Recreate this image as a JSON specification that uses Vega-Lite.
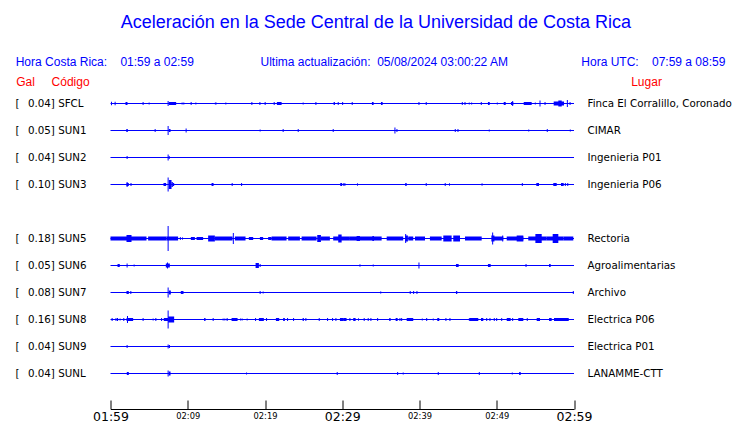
{
  "$schema": "https://vega.github.io/schema/vega-lite/v6.json",
  "width": 463.5,
  "height": 297,
  "autosize": "none",
  "padding": {"left": 110.5, "top": 90, "right": 166, "bottom": 36},
  "background": "white",
  "config": {"view": {"stroke": null}, "axis": {"grid": false}, "font": "DejaVu Sans"},
  "title": {
    "text": "\u200b\u00a0\u00a0\u00a0\u00a0\u00a0\u00a0\u00a0\u00a0\u00a0\u00a0\u00a0\u00a0\u00a0\u00a0\u00a0\u00a0\u00a0\u00a0\u00a0\u00a0\u00a0Aceleración en la Sede Central de la Universidad de Costa Rica",
    "subtitle": "Hora Costa Rica:\u00a0\u00a0\u00a0\u00a001:59 a 02:59\u00a0\u00a0\u00a0\u00a0\u00a0\u00a0\u00a0\u00a0\u00a0\u00a0\u00a0\u00a0\u00a0\u00a0\u00a0\u00a0\u00a0\u00a0\u00a0\u00a0Ultima actualización:\u00a0\u00a005/08/2024 03:00:22 AM\u00a0\u00a0\u00a0\u00a0\u00a0\u00a0\u00a0\u00a0\u00a0\u00a0\u00a0\u00a0\u00a0\u00a0\u00a0\u00a0\u00a0\u00a0\u00a0\u00a0\u00a0\u00a0Hora UTC:\u00a0\u00a0\u00a0\u00a007:59 a 08:59",
    "anchor": "start",
    "frame": "group",
    "dx": -94.8,
    "font": "Liberation Sans",
    "fontSize": 18,
    "fontWeight": "normal",
    "color": "#0000ff",
    "subtitleFont": "Liberation Sans",
    "subtitleFontSize": 12,
    "subtitleColor": "#0000ff",
    "offset": 7,
    "subtitlePadding": 25
  },
  "datasets": {
    "stations": [
      {"code": "SFCL", "gal": 0.04, "place": "Finca El Corralillo, Coronado"},
      {"code": "SUN1", "gal": 0.05, "place": "CIMAR"},
      {"code": "SUN2", "gal": 0.04, "place": "Ingenieria P01"},
      {"code": "SUN3", "gal": 0.10, "place": "Ingenieria P06"},
      {"code": "SUN4", "gal": null, "place": ""},
      {"code": "SUN5", "gal": 0.18, "place": "Rectoria"},
      {"code": "SUN6", "gal": 0.05, "place": "Agroalimentarias"},
      {"code": "SUN7", "gal": 0.08, "place": "Archivo"},
      {"code": "SUN8", "gal": 0.16, "place": "Electrica P06"},
      {"code": "SUN9", "gal": 0.04, "place": "Electrica P01"},
      {"code": "SUNL", "gal": 0.04, "place": "LANAMME-CTT"}
    ],
    "spikes": [
      {"code": "SFCL", "t": 0.13, "amp": 3.5}, {"code": "SFCL", "t": 0.60, "amp": 3.5}, {"code": "SFCL", "t": 4.22, "amp": 3},
      {"code": "SFCL", "t": 5.00, "amp": 2}, {"code": "SFCL", "t": 7.46, "amp": 5}, {"code": "SFCL", "t": 9.27, "amp": 2},
      {"code": "SFCL", "t": 9.49, "amp": 2}, {"code": "SFCL", "t": 10.44, "amp": 3}, {"code": "SFCL", "t": 11.05, "amp": 2},
      {"code": "SFCL", "t": 14.93, "amp": 2}, {"code": "SFCL", "t": 18.30, "amp": 3}, {"code": "SFCL", "t": 19.34, "amp": 3},
      {"code": "SFCL", "t": 20.02, "amp": 3}, {"code": "SFCL", "t": 21.19, "amp": 3}, {"code": "SFCL", "t": 24.94, "amp": 2},
      {"code": "SFCL", "t": 26.59, "amp": 3}, {"code": "SFCL", "t": 29.48, "amp": 3}, {"code": "SFCL", "t": 30.05, "amp": 3},
      {"code": "SFCL", "t": 31.29, "amp": 3}, {"code": "SFCL", "t": 39.93, "amp": 3}, {"code": "SFCL", "t": 40.87, "amp": 3},
      {"code": "SFCL", "t": 45.54, "amp": 3}, {"code": "SFCL", "t": 45.89, "amp": 3}, {"code": "SFCL", "t": 46.44, "amp": 2},
      {"code": "SFCL", "t": 46.75, "amp": 2}, {"code": "SFCL", "t": 48.00, "amp": 3}, {"code": "SFCL", "t": 50.07, "amp": 2},
      {"code": "SFCL", "t": 52.06, "amp": 5}, {"code": "SFCL", "t": 54.99, "amp": 2}, {"code": "SFCL", "t": 55.60, "amp": 6},
      {"code": "SFCL", "t": 56.25, "amp": 3}, {"code": "SFCL", "t": 59.14, "amp": 7}, {"code": "SFCL", "t": 59.49, "amp": 3},
      {"code": "SUN1", "t": 2.15, "amp": 3}, {"code": "SUN1", "t": 5.78, "amp": 3}, {"code": "SUN1", "t": 7.46, "amp": 9},
      {"code": "SUN1", "t": 9.79, "amp": 4}, {"code": "SUN1", "t": 19.37, "amp": 2}, {"code": "SUN1", "t": 22.35, "amp": 3},
      {"code": "SUN1", "t": 24.30, "amp": 3}, {"code": "SUN1", "t": 28.83, "amp": 3}, {"code": "SUN1", "t": 36.82, "amp": 6},
      {"code": "SUN1", "t": 37.08, "amp": 3}, {"code": "SUN1", "t": 44.63, "amp": 3}, {"code": "SUN1", "t": 44.98, "amp": 3},
      {"code": "SUN1", "t": 49.03, "amp": 2}, {"code": "SUN1", "t": 54.14, "amp": 2}, {"code": "SUN1", "t": 56.54, "amp": 3},
      {"code": "SUN1", "t": 59.52, "amp": 2},
      {"code": "SUN2", "t": 2.15, "amp": 3}, {"code": "SUN2", "t": 7.46, "amp": 6}, {"code": "SUN2", "t": 7.60, "amp": 3},
      {"code": "SUN3", "t": 2.15, "amp": 5}, {"code": "SUN3", "t": 7.46, "amp": 14}, {"code": "SUN3", "t": 15.75, "amp": 3},
      {"code": "SUN3", "t": 16.97, "amp": 3}, {"code": "SUN3", "t": 30.21, "amp": 3}, {"code": "SUN3", "t": 40.87, "amp": 3},
      {"code": "SUN3", "t": 43.33, "amp": 3}, {"code": "SUN3", "t": 53.31, "amp": 3}, {"code": "SUN3", "t": 58.88, "amp": 3},
      {"code": "SUN3", "t": 59.19, "amp": 3},
      {"code": "SUN5", "t": 7.46, "amp": 25}, {"code": "SUN5", "t": 15.90, "amp": 11}, {"code": "SUN5", "t": 38.21, "amp": 9},
      {"code": "SUN5", "t": 49.47, "amp": 12}, {"code": "SUN5", "t": 50.77, "amp": 6},
      {"code": "SUN6", "t": 2.15, "amp": 4}, {"code": "SUN6", "t": 3.06, "amp": 2}, {"code": "SUN6", "t": 7.38, "amp": 6},
      {"code": "SUN6", "t": 19.37, "amp": 3}, {"code": "SUN6", "t": 34.01, "amp": 2}, {"code": "SUN6", "t": 39.93, "amp": 6},
      {"code": "SUN6", "t": 53.79, "amp": 3},
      {"code": "SUN7", "t": 2.63, "amp": 3}, {"code": "SUN7", "t": 7.46, "amp": 10}, {"code": "SUN7", "t": 19.37, "amp": 3},
      {"code": "SUN7", "t": 19.76, "amp": 2}, {"code": "SUN7", "t": 38.80, "amp": 3}, {"code": "SUN7", "t": 39.24, "amp": 3},
      {"code": "SUN7", "t": 39.67, "amp": 3}, {"code": "SUN7", "t": 59.91, "amp": 3},
      {"code": "SUN8", "t": 0.21, "amp": 3}, {"code": "SUN8", "t": 0.65, "amp": 2}, {"code": "SUN8", "t": 1.24, "amp": 2},
      {"code": "SUN8", "t": 1.72, "amp": 3}, {"code": "SUN8", "t": 2.20, "amp": 7}, {"code": "SUN8", "t": 4.22, "amp": 3},
      {"code": "SUN8", "t": 5.52, "amp": 2}, {"code": "SUN8", "t": 5.87, "amp": 3}, {"code": "SUN8", "t": 6.61, "amp": 3},
      {"code": "SUN8", "t": 7.46, "amp": 18}, {"code": "SUN8", "t": 13.29, "amp": 3}, {"code": "SUN8", "t": 14.58, "amp": 2},
      {"code": "SUN8", "t": 14.80, "amp": 2}, {"code": "SUN8", "t": 15.10, "amp": 3}, {"code": "SUN8", "t": 16.84, "amp": 2},
      {"code": "SUN8", "t": 17.04, "amp": 2}, {"code": "SUN8", "t": 17.69, "amp": 2}, {"code": "SUN8", "t": 18.78, "amp": 3},
      {"code": "SUN8", "t": 20.20, "amp": 3}, {"code": "SUN8", "t": 22.92, "amp": 3}, {"code": "SUN8", "t": 23.70, "amp": 3},
      {"code": "SUN8", "t": 25.29, "amp": 3}, {"code": "SUN8", "t": 27.02, "amp": 3}, {"code": "SUN8", "t": 28.10, "amp": 3},
      {"code": "SUN8", "t": 28.75, "amp": 3}, {"code": "SUN8", "t": 29.18, "amp": 3}, {"code": "SUN8", "t": 30.99, "amp": 3},
      {"code": "SUN8", "t": 32.84, "amp": 3}, {"code": "SUN8", "t": 33.36, "amp": 3}, {"code": "SUN8", "t": 33.71, "amp": 3},
      {"code": "SUN8", "t": 34.58, "amp": 3}, {"code": "SUN8", "t": 37.47, "amp": 3}, {"code": "SUN8", "t": 37.69, "amp": 3},
      {"code": "SUN8", "t": 40.36, "amp": 2}, {"code": "SUN8", "t": 40.93, "amp": 3}, {"code": "SUN8", "t": 41.78, "amp": 2},
      {"code": "SUN8", "t": 43.42, "amp": 3}, {"code": "SUN8", "t": 43.94, "amp": 3}, {"code": "SUN8", "t": 46.44, "amp": 2},
      {"code": "SUN8", "t": 48.70, "amp": 3}, {"code": "SUN8", "t": 49.12, "amp": 3}, {"code": "SUN8", "t": 49.68, "amp": 3},
      {"code": "SUN8", "t": 49.99, "amp": 3}, {"code": "SUN8", "t": 50.64, "amp": 3}, {"code": "SUN8", "t": 52.06, "amp": 3},
      {"code": "SUN8", "t": 53.95, "amp": 3},
      {"code": "SUN9", "t": 2.15, "amp": 3}, {"code": "SUN9", "t": 7.46, "amp": 4},
      {"code": "SUNL", "t": 7.46, "amp": 6}, {"code": "SUNL", "t": 17.61, "amp": 2}, {"code": "SUNL", "t": 29.35, "amp": 3},
      {"code": "SUNL", "t": 37.17, "amp": 3}, {"code": "SUNL", "t": 37.89, "amp": 2}, {"code": "SUNL", "t": 42.43, "amp": 3},
      {"code": "SUNL", "t": 47.74, "amp": 3}, {"code": "SUNL", "t": 52.01, "amp": 2}
    ],
    "bursts": [
      {"code": "SFCL", "t0": 1.94, "t1": 2.20, "amp": 3}, {"code": "SFCL", "t0": 7.55, "t1": 8.50, "amp": 3},
      {"code": "SFCL", "t0": 13.51, "t1": 13.73, "amp": 2}, {"code": "SFCL", "t0": 21.54, "t1": 22.15, "amp": 3},
      {"code": "SFCL", "t0": 28.88, "t1": 29.05, "amp": 3}, {"code": "SFCL", "t0": 33.84, "t1": 34.06, "amp": 3},
      {"code": "SFCL", "t0": 35.01, "t1": 35.23, "amp": 3}, {"code": "SFCL", "t0": 48.86, "t1": 49.09, "amp": 3},
      {"code": "SFCL", "t0": 50.90, "t1": 51.16, "amp": 3}, {"code": "SFCL", "t0": 51.84, "t1": 52.14, "amp": 3},
      {"code": "SFCL", "t0": 53.49, "t1": 54.52, "amp": 3}, {"code": "SFCL", "t0": 57.37, "t1": 58.71, "amp": 4},
      {"code": "SFCL", "t0": 57.97, "t1": 58.41, "amp": 6},
      {"code": "SUN1", "t0": 2.07, "t1": 2.20, "amp": 3}, {"code": "SUN1", "t0": 7.55, "t1": 7.77, "amp": 3},
      {"code": "SUN3", "t0": 2.07, "t1": 2.37, "amp": 3}, {"code": "SUN3", "t0": 2.59, "t1": 2.72, "amp": 3},
      {"code": "SUN3", "t0": 6.86, "t1": 7.20, "amp": 3}, {"code": "SUN3", "t0": 7.55, "t1": 7.90, "amp": 9},
      {"code": "SUN3", "t0": 7.90, "t1": 8.07, "amp": 5}, {"code": "SUN3", "t0": 8.07, "t1": 8.24, "amp": 3},
      {"code": "SUN3", "t0": 13.08, "t1": 13.34, "amp": 3}, {"code": "SUN3", "t0": 29.74, "t1": 29.99, "amp": 3},
      {"code": "SUN3", "t0": 30.31, "t1": 30.40, "amp": 3}, {"code": "SUN3", "t0": 31.94, "t1": 32.03, "amp": 3},
      {"code": "SUN3", "t0": 38.15, "t1": 38.34, "amp": 3}, {"code": "SUN3", "t0": 43.85, "t1": 43.94, "amp": 3},
      {"code": "SUN3", "t0": 48.05, "t1": 48.14, "amp": 3}, {"code": "SUN3", "t0": 55.12, "t1": 55.47, "amp": 3},
      {"code": "SUN3", "t0": 57.32, "t1": 57.76, "amp": 3}, {"code": "SUN3", "t0": 58.32, "t1": 58.67, "amp": 3},
      {"code": "SUN5", "t0": 0.00, "t1": 4.66, "amp": 4}, {"code": "SUN5", "t0": 2.07, "t1": 2.72, "amp": 7},
      {"code": "SUN5", "t0": 4.87, "t1": 7.25, "amp": 4}, {"code": "SUN5", "t0": 7.25, "t1": 8.75, "amp": 4},
      {"code": "SUN5", "t0": 8.98, "t1": 9.10, "amp": 3}, {"code": "SUN5", "t0": 9.27, "t1": 9.35, "amp": 3},
      {"code": "SUN5", "t0": 10.40, "t1": 10.92, "amp": 3}, {"code": "SUN5", "t0": 11.14, "t1": 11.99, "amp": 3},
      {"code": "SUN5", "t0": 12.64, "t1": 13.51, "amp": 6}, {"code": "SUN5", "t0": 13.51, "t1": 15.80, "amp": 4},
      {"code": "SUN5", "t0": 16.10, "t1": 17.48, "amp": 4}, {"code": "SUN5", "t0": 17.91, "t1": 18.47, "amp": 3},
      {"code": "SUN5", "t0": 19.34, "t1": 19.76, "amp": 3}, {"code": "SUN5", "t0": 20.41, "t1": 20.85, "amp": 3},
      {"code": "SUN5", "t0": 20.85, "t1": 22.79, "amp": 4}, {"code": "SUN5", "t0": 23.00, "t1": 24.52, "amp": 4},
      {"code": "SUN5", "t0": 24.74, "t1": 26.68, "amp": 4}, {"code": "SUN5", "t0": 26.76, "t1": 27.24, "amp": 7},
      {"code": "SUN5", "t0": 27.24, "t1": 28.40, "amp": 4}, {"code": "SUN5", "t0": 28.83, "t1": 30.99, "amp": 4},
      {"code": "SUN5", "t0": 29.48, "t1": 29.92, "amp": 8}, {"code": "SUN5", "t0": 30.99, "t1": 35.10, "amp": 4},
      {"code": "SUN5", "t0": 31.86, "t1": 32.29, "amp": 5}, {"code": "SUN5", "t0": 33.90, "t1": 34.10, "amp": 5},
      {"code": "SUN5", "t0": 35.75, "t1": 37.89, "amp": 4}, {"code": "SUN5", "t0": 38.15, "t1": 38.50, "amp": 6},
      {"code": "SUN5", "t0": 38.54, "t1": 39.19, "amp": 4}, {"code": "SUN5", "t0": 39.41, "t1": 40.71, "amp": 4},
      {"code": "SUN5", "t0": 41.35, "t1": 42.87, "amp": 4}, {"code": "SUN5", "t0": 43.08, "t1": 44.16, "amp": 6},
      {"code": "SUN5", "t0": 44.37, "t1": 45.24, "amp": 6}, {"code": "SUN5", "t0": 45.89, "t1": 48.05, "amp": 4},
      {"code": "SUN5", "t0": 49.30, "t1": 49.70, "amp": 6}, {"code": "SUN5", "t0": 49.55, "t1": 50.85, "amp": 4},
      {"code": "SUN5", "t0": 51.29, "t1": 53.44, "amp": 4}, {"code": "SUN5", "t0": 52.58, "t1": 53.44, "amp": 6},
      {"code": "SUN5", "t0": 54.08, "t1": 56.47, "amp": 4}, {"code": "SUN5", "t0": 55.00, "t1": 55.82, "amp": 9},
      {"code": "SUN5", "t0": 56.47, "t1": 58.62, "amp": 4}, {"code": "SUN5", "t0": 57.24, "t1": 57.97, "amp": 9},
      {"code": "SUN5", "t0": 58.62, "t1": 59.91, "amp": 4},
      {"code": "SUN6", "t0": 0.91, "t1": 1.20, "amp": 3}, {"code": "SUN6", "t0": 7.16, "t1": 7.68, "amp": 4},
      {"code": "SUN6", "t0": 18.78, "t1": 19.21, "amp": 5}, {"code": "SUN6", "t0": 32.20, "t1": 32.38, "amp": 2},
      {"code": "SUN6", "t0": 44.72, "t1": 45.07, "amp": 3}, {"code": "SUN6", "t0": 48.86, "t1": 49.21, "amp": 3},
      {"code": "SUN6", "t0": 56.77, "t1": 56.98, "amp": 3},
      {"code": "SUN7", "t0": 2.07, "t1": 2.37, "amp": 3}, {"code": "SUN7", "t0": 7.55, "t1": 7.81, "amp": 4},
      {"code": "SUN7", "t0": 9.10, "t1": 9.45, "amp": 3}, {"code": "SUN7", "t0": 34.90, "t1": 35.05, "amp": 2},
      {"code": "SUN7", "t0": 44.72, "t1": 44.89, "amp": 3},
      {"code": "SUN8", "t0": 0.78, "t1": 0.98, "amp": 3}, {"code": "SUN8", "t0": 2.07, "t1": 2.93, "amp": 3},
      {"code": "SUN8", "t0": 6.90, "t1": 7.46, "amp": 3}, {"code": "SUN8", "t0": 7.46, "t1": 8.24, "amp": 6},
      {"code": "SUN8", "t0": 12.12, "t1": 12.30, "amp": 3}, {"code": "SUN8", "t0": 15.67, "t1": 16.45, "amp": 3},
      {"code": "SUN8", "t0": 19.21, "t1": 19.85, "amp": 3}, {"code": "SUN8", "t0": 21.41, "t1": 21.84, "amp": 3},
      {"code": "SUN8", "t0": 22.35, "t1": 22.57, "amp": 3}, {"code": "SUN8", "t0": 24.87, "t1": 25.03, "amp": 3},
      {"code": "SUN8", "t0": 29.70, "t1": 30.12, "amp": 3}, {"code": "SUN8", "t0": 30.12, "t1": 30.56, "amp": 3},
      {"code": "SUN8", "t0": 31.42, "t1": 31.73, "amp": 3}, {"code": "SUN8", "t0": 32.07, "t1": 32.16, "amp": 3},
      {"code": "SUN8", "t0": 36.08, "t1": 36.26, "amp": 3}, {"code": "SUN8", "t0": 36.91, "t1": 37.17, "amp": 3},
      {"code": "SUN8", "t0": 38.34, "t1": 39.19, "amp": 3}, {"code": "SUN8", "t0": 42.30, "t1": 42.56, "amp": 3},
      {"code": "SUN8", "t0": 46.44, "t1": 47.61, "amp": 3}, {"code": "SUN8", "t0": 47.96, "t1": 48.26, "amp": 3},
      {"code": "SUN8", "t0": 51.29, "t1": 51.80, "amp": 3}, {"code": "SUN8", "t0": 52.79, "t1": 53.44, "amp": 3},
      {"code": "SUN8", "t0": 55.17, "t1": 55.60, "amp": 3}, {"code": "SUN8", "t0": 56.77, "t1": 57.11, "amp": 3},
      {"code": "SUN8", "t0": 57.41, "t1": 59.32, "amp": 3},
      {"code": "SUN9", "t0": 7.55, "t1": 7.70, "amp": 3},
      {"code": "SUNL", "t0": 2.11, "t1": 2.37, "amp": 3}, {"code": "SUNL", "t0": 7.55, "t1": 7.77, "amp": 4},
      {"code": "SUNL", "t0": 52.90, "t1": 53.10, "amp": 3}
    ]
  },
  "layer": [
    {
      "layer": [
        {
          "data": {"name": "stations"},
          "transform": [{"filter": "datum.gal != null"}],
          "mark": {"type": "rule", "color": "#0000ff", "strokeWidth": 1},
          "encoding": {
            "x": {"datum": 0, "type": "quantitative", "scale": {"domain": [0, 60], "nice": false, "zero": false},
              "axis": {
                "orient": "bottom", "offset": 22, "values": [0, 5, 10, 15, 20, 25, 30, 35, 40, 45, 50, 55, 60],
                "tickSize": -9, "tickColor": "black", "tickWidth": 1, "domainColor": "black", "domainWidth": 1,
                "labelExpr": "datum.value % 10 == 0 ? ('0' + floor((119 + datum.value) / 60) + ':' + ((119 + datum.value) % 60 < 10 ? '0' : '') + ((119 + datum.value) % 60)) : ''",
                "labelFontSize": {"condition": {"test": "datum.value % 30 == 0", "value": 12.5}, "value": 8.3},
                "labelFont": "DejaVu Sans", "labelColor": "black", "labelPadding": 16, "labelBaseline": "middle",
                "labelFlush": false, "labelOverlap": false, "labelBound": false, "title": null, "grid": false
              }
            },
            "x2": {"datum": 60},
            "y": {"field": "code", "type": "nominal",
              "scale": {"type": "point", "padding": 0.5, "domain": ["SFCL", "SUN1", "SUN2", "SUN3", "SUN4", "SUN5", "SUN6", "SUN7", "SUN8", "SUN9", "SUNL"]},
              "axis": null}
          }
        },
        {
          "data": {"name": "bursts"},
          "mark": {"type": "rule", "color": "#0000ff", "strokeCap": "butt"},
          "encoding": {
            "x": {"field": "t0", "type": "quantitative"},
            "x2": {"field": "t1"},
            "y": {"field": "code", "type": "nominal"},
            "strokeWidth": {"field": "amp", "type": "quantitative", "scale": {"domain": [0, 30], "range": [0, 30]}, "legend": null}
          }
        },
        {
          "data": {"name": "spikes"},
          "mark": {"type": "tick", "color": "#0000ff", "thickness": 1, "opacity": 1, "orient": "vertical"},
          "encoding": {
            "x": {"field": "t", "type": "quantitative"},
            "y": {"field": "code", "type": "nominal"},
            "size": {"field": "amp", "type": "quantitative", "scale": {"domain": [0, 30], "range": [0, 30]}, "legend": null}
          }
        }
      ]
    },
    {
      "data": {"name": "stations"},
      "transform": [{"calculate": "datum.gal == null ? '' : '[\u2002\u00a0' + format(datum.gal, '.2f') + '] ' + datum.code", "as": "label"}],
      "mark": {"type": "tick", "opacity": 0},
      "encoding": {
        "y": {"field": "label", "type": "nominal", "sort": null, "scale": {"type": "point", "padding": 0.5},
          "axis": {
            "orient": "left", "ticks": false, "tickSize": 0, "domain": false, "labelAlign": "left", "labelBaseline": "middle",
            "labelPadding": 95.5, "labelFont": "DejaVu Sans", "labelFontSize": 10.3, "labelColor": "black", "labelLimit": 300,
            "labelOverlap": false,
            "title": "Gal\u00a0\u00a0\u00a0\u00a0\u00a0Código", "titleAngle": 0, "titleAlign": "left", "titleBaseline": "alphabetic",
            "titleX": -94.8, "titleY": -5, "titleFont": "Liberation Sans", "titleFontSize": 12, "titleFontWeight": "normal", "titleColor": "red"
          }
        }
      }
    },
    {
      "data": {"name": "stations"},
      "mark": {"type": "tick", "opacity": 0},
      "encoding": {
        "y": {"field": "place", "type": "nominal", "sort": null, "scale": {"type": "point", "padding": 0.5},
          "axis": {
            "orient": "right", "ticks": false, "tickSize": 0, "domain": false, "labelAlign": "left", "labelBaseline": "middle",
            "labelPadding": 13, "labelFont": "DejaVu Sans", "labelFontSize": 10.3, "labelColor": "black", "labelLimit": 300,
            "labelOverlap": false,
            "title": "Lugar", "titleAngle": 0, "titleAlign": "left", "titleBaseline": "alphabetic",
            "titleX": 56.7, "titleY": -5, "titleFont": "Liberation Sans", "titleFontSize": 12, "titleFontWeight": "normal", "titleColor": "red"
          }
        }
      }
    }
  ],
  "resolve": {"scale": {"y": "independent"}}
}
